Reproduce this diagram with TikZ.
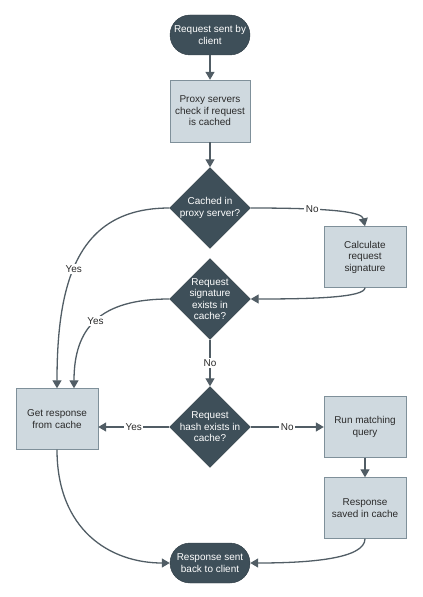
\documentclass[tikz,border=0pt]{standalone}
\usepackage{fontspec}
\setmainfont{Liberation Sans}
\usetikzlibrary{shapes.geometric,arrows.meta}
\definecolor{slate}{HTML}{3E4F59}
\definecolor{slateline}{HTML}{2F3C44}
\definecolor{boxfill}{HTML}{CFD9DF}
\definecolor{boxline}{HTML}{7F909A}
\definecolor{flowline}{HTML}{515D65}
\definecolor{ink}{HTML}{2B2B2B}
\tikzset{
flow/.style = { x = 1bp, y = 1bp, font = \fontsize{10}{11.5}\selectfont, > = {Triangle[width=9bp,length=8bp]} },
terminal/.style = { rectangle, rounded corners = 20bp, fill = slate, draw = slateline, text = white, minimum width = 80bp, minimum height = 40bp, align = center, inner sep = 0pt },
process/.style = { rectangle, fill = boxfill, draw = boxline, text = ink, minimum width = 82bp, minimum height = 61bp, align = center, inner sep = 0pt },
decision/.style = { diamond, fill = slate, draw = slateline, minimum width = 81bp, minimum height = 81bp, inner sep = 0pt, label = {[text = white, align = center]center:#1} },
answer/.style = { fill = white, text = ink, inner sep = 1.5bp },
link/.style = { ->, draw = flowline, line width = 1.3bp }
}

\begin{document}
\begin{tikzpicture}[flow]
	\useasboundingbox (0,0) rectangle (422,-597);
	\node[terminal] (start) at (210,-35) {Request sent by\\client};
	\node[process, minimum width = 80bp, minimum height = 62bp] (check) at (210,-111) {Proxy servers\\check if request\\is cached};
	\node[decision = {Cached in\\proxy server?}] (cached) at (210,-208) {};
	\node[process] (sign) at (365,-257) {Calculate\\request\\signature};
	\node[decision = {Request\\signature\\exists in\\cache?}] (signok) at (210,-299) {};
	\node[decision = {Request\\hash exists in\\cache?}] (hashok) at (210,-427) {};
	\node[process] (get) at (57,-419) {Get response\\from cache};
	\node[process] (query) at (365,-427) {Run matching\\query};
	\node[process] (saved) at (365,-508) {Response\\saved in cache};
	\node[terminal] (reply) at (210,-563) {Response sent\\back to client};

	\draw[link] (start) -- (check);
	\draw[link] (check) -- (cached);
	\draw[link] (cached.east) .. controls +(85,0) and +(-3,14) .. (sign.north) node[answer, pos = 0.3] {No};
	\draw[link] (sign.south) .. controls +(0,-10) and +(60,0) .. (signok.east);
	\draw[link] (cached.west) .. controls +(-90,0) and +(0,110) .. (get.north) node[answer, pos = 0.56] {Yes};
	\draw[link] (signok.west) .. controls +(-70,0) and +(0,60) .. ([xshift = 17bp]get.north) node[answer, pos = 0.5] {Yes};
	\draw[link] (signok) -- node[answer] {No} (hashok);
	\draw[link] (hashok.west) -- node[answer] {Yes} (hashok.west -| get.east);
	\draw[link] (hashok.east) -- node[answer] {No} (query.west);
	\draw[link] (query) -- (saved);
	\draw[link] (get.south) .. controls +(0,-80) and +(-60,0) .. (reply.west);
	\draw[link] (saved.south) .. controls +(0,-20) and +(60,0) .. (reply.east);
\end{tikzpicture}
\end{document}
